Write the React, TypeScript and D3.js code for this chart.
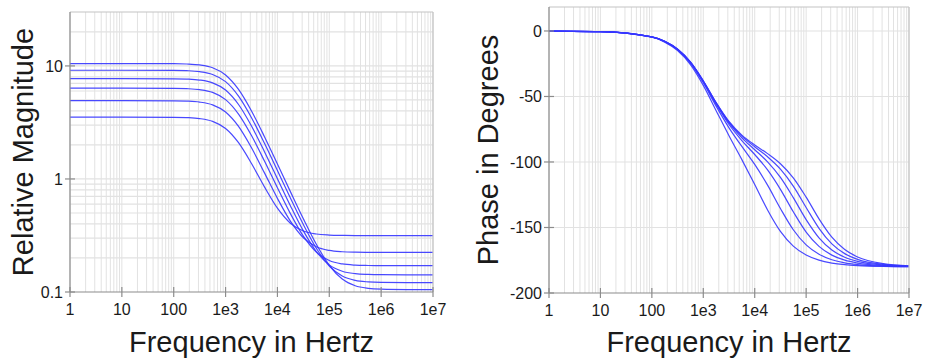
import React from 'react';
import * as d3 from 'd3';

// ---------- data ----------
const freqs = [1, 10, 100, 178, 316, 562, 1000, 1778, 3162, 5623, 10000, 17783, 31623, 56234, 100000, 177828, 316228, 562341, 1000000, 3162278, 10000000];

const magA = [10.5, 10.5, 10.47, 10.4, 10.2, 9.64, 8.32, 6.197, 3.994, 2.367, 1.358, 0.7727, 0.4438, 0.2644, 0.1722, 0.1301, 0.1135, 0.1078, 0.1059, 0.1051, 0.105];
const magB = [9.16, 9.16, 9.133, 9.076, 8.901, 8.408, 7.26, 5.407, 3.485, 2.066, 1.187, 0.6787, 0.3951, 0.2438, 0.1698, 0.1383, 0.1267, 0.1229, 0.1216, 0.1211, 0.121];
const magC = [7.72, 7.72, 7.697, 7.649, 7.502, 7.086, 6.119, 4.557, 2.939, 1.744, 1.005, 0.5804, 0.3473, 0.228, 0.1738, 0.1527, 0.1454, 0.1431, 0.1423, 0.142, 0.1419];
const magD = [6.35, 6.35, 6.331, 6.291, 6.17, 5.829, 5.034, 3.75, 2.42, 1.44, 0.836, 0.4933, 0.3117, 0.2252, 0.1898, 0.1771, 0.1729, 0.1716, 0.171, 0.171, 0.1709];
const magE = [4.93, 4.93, 4.915, 4.884, 4.791, 4.526, 3.91, 2.915, 1.886, 1.1316, 0.6733, 0.4233, 0.3018, 0.2513, 0.2331, 0.227, 0.225, 0.2244, 0.2242, 0.2241, 0.2241];
const magF = [3.52, 3.52, 3.51, 3.488, 3.421, 3.233, 2.797, 2.093, 1.37, 0.8503, 0.5513, 0.4061, 0.3468, 0.3258, 0.3189, 0.3166, 0.3158, 0.3157, 0.3156, 0.3156, 0.3156];

const phA = [-0.04, -0.44, -4.44, -7.87, -13.81, -23.64, -38.01, -54.61, -69.04, -79.47, -86.99, -93.61, -101.32, -112.07, -126.83, -143.41, -157.41, -166.86, -172.52, -177.63, -179.25];
const phB = [-0.04, -0.45, -4.46, -7.89, -13.85, -23.72, -38.15, -54.87, -69.49, -80.26, -88.39, -96.06, -105.47, -118.43, -134.72, -150.63, -162.48, -169.94, -174.31, -178.2, -179.43];
const phC = [-0.04, -0.45, -4.48, -7.93, -13.93, -23.85, -38.38, -55.27, -70.21, -81.54, -90.64, -99.94, -111.75, -127.18, -144.0, -157.9, -167.16, -172.7, -175.88, -178.7, -179.58];
const phD = [-0.04, -0.45, -4.52, -8.0, -14.05, -24.06, -38.76, -55.94, -71.4, -83.63, -94.29, -106.03, -120.86, -138.02, -153.48, -164.39, -171.08, -174.96, -177.16, -179.1, -179.71];
const phE = [-0.04, -0.46, -4.6, -8.15, -14.3, -24.52, -39.57, -57.39, -73.96, -88.11, -101.86, -117.69, -135.53, -151.73, -163.3, -170.44, -174.59, -176.96, -178.29, -179.46, -179.83];
const phF = [-0.04, -0.47, -4.8, -8.49, -14.92, -25.61, -41.52, -60.82, -79.95, -98.19, -117.18, -136.62, -153.02, -164.22, -171.01, -174.92, -177.13, -178.39, -179.1, -179.72, -179.91];

const magSeries = [magA, magB, magC, magD, magE, magF];
const phaseSeries = [phA, phB, phC, phD, phE, phF];

const xTickValues = [1, 10, 100, 1000, 10000, 100000, 1000000, 10000000];
const xTickLabels = ['1', '10', '100', '1e3', '1e4', '1e5', '1e6', '1e7'];
const magTickValues = [0.1, 1, 10];
const magTickLabels = ['0.1', '1', '10'];
const phaseTickValues = [0, -50, -100, -150, -200];
const phaseTickLabels = ['0', '-50', '-100', '-150', '-200'];

const xTitle = 'Frequency in Hertz';
const magTitle = 'Relative Magnitude';
const phaseTitle = 'Phase in Degrees';

// ---------- styles ----------
const W = 927;
const H = 358;
const FONT = "'Liberation Sans', Arial, Helvetica, sans-serif";
const LINE = '#3535ff';
const GRID = '#e2e2e2';
const AXIS = '#8c8c8c';
const BORDER = '#c4c4c4';
const TEXT = '#1a1a1a';

type Scale = (v: number) => number;

function Panel(props: {
  id: string;
  x: d3.ScaleLogarithmic<number, number>;
  y: any;
  yTicks: number[];
  yLabels: string[];
  hGrid: number[];
  series: number[][];
  yTitle: string;
  yTitleX: number;
}) {
  const { id, x, y, yTicks, yLabels, hGrid, series, yTitle, yTitleX } = props;
  const [x0, x1] = x.range();
  const [y0, y1] = y.range(); // y0 bottom, y1 top
  const vGrid = x.ticks();
  const line = d3
    .line<number>()
    .x((_, i) => x(freqs[i]))
    .y((d) => y(d))
    .curve(d3.curveMonotoneX);
  const cx = (x0 + x1) / 2;
  const cy = (y0 + y1) / 2;
  return (
    <g>
      <defs>
        <clipPath id={id}>
          <rect x={x0} y={y1} width={x1 - x0} height={y0 - y1} />
        </clipPath>
      </defs>
      <rect x={x0} y={y1} width={x1 - x0} height={y0 - y1} fill="#fff" />
      {vGrid.map((v, i) => (
        <line key={'v' + i} x1={x(v)} x2={x(v)} y1={y1} y2={y0} stroke={GRID} strokeWidth={1} />
      ))}
      {hGrid.map((v, i) => (
        <line key={'h' + i} x1={x0} x2={x1} y1={y(v)} y2={y(v)} stroke={GRID} strokeWidth={1.2} />
      ))}
      <g clipPath={`url(#${id})`}>
        {series.map((s, i) => (
          <path key={'s' + i} d={line(s) || ''} fill="none" stroke={LINE} strokeWidth={1.2} strokeOpacity={0.9} />
        ))}
      </g>
      {/* border */}
      <line x1={x0} x2={x1} y1={y1} y2={y1} stroke={BORDER} strokeWidth={1.2} />
      <line x1={x1} x2={x1} y1={y1} y2={y0} stroke={BORDER} strokeWidth={1.2} />
      {/* axes */}
      <line x1={x0} x2={x1} y1={y0} y2={y0} stroke={AXIS} strokeWidth={1.2} />
      <line x1={x0} x2={x0} y1={y1} y2={y0} stroke={AXIS} strokeWidth={1.2} />
      {xTickValues.map((v, i) => (
        <g key={'xt' + i}>
          <line x1={x(v)} x2={x(v)} y1={y0 - 5} y2={y0 + 5} stroke={AXIS} strokeWidth={1.2} />
          <text x={x(v)} y={y0 + 23} textAnchor="middle" fontSize={16} fontFamily={FONT} fill={TEXT}>
            {xTickLabels[i]}
          </text>
        </g>
      ))}
      {yTicks.map((v, i) => (
        <g key={'yt' + i}>
          <line x1={x0 - 5} x2={x0 + 5} y1={y(v)} y2={y(v)} stroke={AXIS} strokeWidth={1.2} />
          <text x={x0 - 7} y={y(v)} dy="0.36em" textAnchor="end" fontSize={16} fontFamily={FONT} fill={TEXT}>
            {yLabels[i]}
          </text>
        </g>
      ))}
      <text x={cx} y={352} textAnchor="middle" fontSize={29} fontFamily={FONT} fill={TEXT}>
        {xTitle}
      </text>
      <text
        transform={`translate(${yTitleX},${cy}) rotate(-90)`}
        textAnchor="middle"
        fontSize={29}
        fontFamily={FONT}
        fill={TEXT}
      >
        {yTitle}
      </text>
    </g>
  );
}

export default function App() {
  const xL = d3.scaleLog().domain([1, 1e7]).range([70, 433]);
  const yL = d3.scaleLog().domain([0.1, 30]).range([292, 12]);
  const xR = d3.scaleLog().domain([1, 1e7]).range([549, 909]);
  const yR = d3.scaleLinear().domain([-200, 18.3]).range([293, 7]);
  const magGrid = yL.ticks().filter((v) => v > 0.1 && v < 30);
  const phaseGrid = phaseTickValues.filter((v) => v > -200);
  return (
    <svg
      width={W}
      height={H}
      viewBox={`0 0 ${W} ${H}`}
      style={{ position: 'absolute', left: 0, top: 0, background: '#fff' }}
    >
      <rect x={0} y={0} width={W} height={H} fill="#fff" />
      <Panel
        id="clipL"
        x={xL}
        y={yL}
        yTicks={magTickValues}
        yLabels={magTickLabels}
        hGrid={magGrid}
        series={magSeries}
        yTitle={magTitle}
        yTitleX={33}
      />
      <Panel
        id="clipR"
        x={xR}
        y={yR}
        yTicks={phaseTickValues}
        yLabels={phaseTickLabels}
        hGrid={phaseGrid}
        series={phaseSeries}
        yTitle={phaseTitle}
        yTitleX={498}
      />
    </svg>
  );
}
